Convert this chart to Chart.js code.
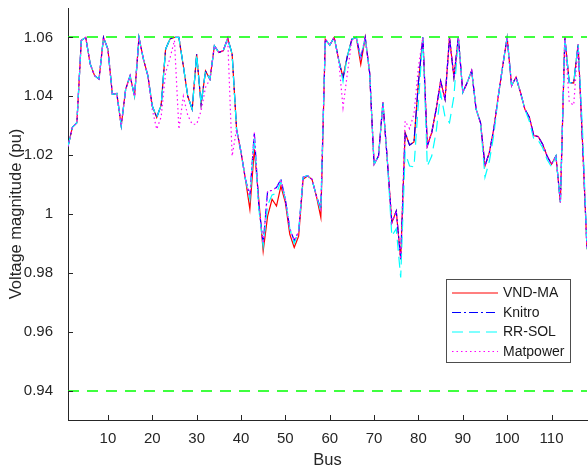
<!DOCTYPE html>
<html>
<head>
<meta charset="utf-8">
<script src="https://cdn.jsdelivr.net/npm/chart.js@4.4.1/dist/chart.umd.min.js"></script>
<style>
  body { margin: 0; background: #fff; }
  #wrap { width: 588px; height: 469px; }
</style>
</head>
<body>
<div id="wrap"><canvas id="voltChart" width="588" height="469"></canvas></div>
<script>
// bus numbers 1..118
const buses = Array.from({ length: 118 }, (_, i) => i + 1);

const xTicks = [10, 20, 30, 40, 50, 60, 70, 80, 90, 100, 110];
const yTicks = [0.94, 0.96, 0.98, 1, 1.02, 1.04, 1.06];

// voltage limits (green dashed)
const vLimits = [1.06, 0.94];

// voltage magnitudes
const vndMA = [
  1.0230, 1.0295, 1.0310, 1.0590, 1.0600, 1.0510, 1.0470, 1.0458, 1.0600, 1.0560,
  1.0407, 1.0410, 1.0300, 1.0424, 1.0470, 1.0400, 1.0600, 1.0526, 1.0470, 1.0367,
  1.0328, 1.0370, 1.0560, 1.0595, 1.0600, 1.0600, 1.0503, 1.0400, 1.0356, 1.0543,
  1.0373, 1.0486, 1.0458, 1.0571, 1.0549, 1.0555, 1.0597, 1.0543, 1.0288, 1.0210,
  1.0118, 1.0016, 1.0220, 1.0050, 0.9874, 0.9993, 1.0050, 1.0027, 1.0095, 1.0039,
  0.9931, 0.9886, 0.9925, 1.0118, 1.0129, 1.0118, 1.0061, 0.9988, 1.0594, 1.0574,
  1.0600, 1.0526, 1.0464, 1.0538, 1.0594, 1.0600, 1.0509, 1.0600, 1.0480, 1.0169,
  1.0197, 1.0379, 1.0180, 0.9970, 1.0010, 0.9846, 1.0277, 1.0234, 1.0245, 1.0447,
  1.0600, 1.0231, 1.0277, 1.0356, 1.0452, 1.0390, 1.0600, 1.0465, 1.0600, 1.0413,
  1.0447, 1.0487, 1.0356, 1.0310, 1.0163, 1.0210, 1.0290, 1.0400, 1.0503, 1.0600,
  1.0436, 1.0465, 1.0413, 1.0356, 1.0329, 1.0267, 1.0263, 1.0237, 1.0197, 1.0169,
  1.0197, 1.0039, 1.0600, 1.0447, 1.0445, 1.0577, 1.0240, 0.9880
];

const knitro = [
  1.0230, 1.0295, 1.0310, 1.0590, 1.0600, 1.0510, 1.0470, 1.0458, 1.0600, 1.0560,
  1.0407, 1.0410, 1.0300, 1.0424, 1.0470, 1.0400, 1.0600, 1.0526, 1.0470, 1.0367,
  1.0328, 1.0370, 1.0560, 1.0595, 1.0600, 1.0600, 1.0503, 1.0400, 1.0356, 1.0543,
  1.0373, 1.0486, 1.0458, 1.0571, 1.0549, 1.0555, 1.0597, 1.0543, 1.0288, 1.0210,
  1.0118, 1.0060, 1.0277, 1.0030, 0.9900, 1.0078, 1.0080, 1.0090, 1.0118, 1.0050,
  0.9950, 0.9910, 0.9940, 1.0125, 1.0130, 1.0118, 1.0061, 1.0017, 1.0594, 1.0574,
  1.0600, 1.0526, 1.0460, 1.0538, 1.0594, 1.0600, 1.0530, 1.0600, 1.0480, 1.0169,
  1.0197, 1.0379, 1.0180, 0.9970, 1.0010, 0.9846, 1.0277, 1.0234, 1.0245, 1.0447,
  1.0600, 1.0231, 1.0277, 1.0356, 1.0452, 1.0390, 1.0600, 1.0465, 1.0600, 1.0413,
  1.0447, 1.0487, 1.0356, 1.0310, 1.0163, 1.0210, 1.0290, 1.0400, 1.0503, 1.0600,
  1.0436, 1.0465, 1.0413, 1.0356, 1.0329, 1.0267, 1.0263, 1.0237, 1.0197, 1.0169,
  1.0197, 1.0039, 1.0600, 1.0447, 1.0445, 1.0577, 1.0240, 0.9880
];

const rrSol = [
  1.0230, 1.0295, 1.0310, 1.0590, 1.0600, 1.0510, 1.0470, 1.0458, 1.0600, 1.0560,
  1.0407, 1.0410, 1.0300, 1.0424, 1.0470, 1.0400, 1.0600, 1.0526, 1.0470, 1.0367,
  1.0328, 1.0370, 1.0560, 1.0595, 1.0600, 1.0600, 1.0503, 1.0400, 1.0356, 1.0543,
  1.0373, 1.0486, 1.0458, 1.0571, 1.0549, 1.0555, 1.0597, 1.0543, 1.0288, 1.0210,
  1.0118, 1.0050, 1.0260, 1.0020, 0.9890, 1.0030, 1.0065, 1.0070, 1.0110, 1.0050,
  0.9950, 0.9900, 0.9940, 1.0125, 1.0130, 1.0118, 1.0061, 1.0010, 1.0594, 1.0574,
  1.0600, 1.0526, 1.0450, 1.0538, 1.0594, 1.0600, 1.0530, 1.0600, 1.0480, 1.0169,
  1.0197, 1.0379, 1.0180, 0.9925, 0.9950, 0.9784, 1.0209, 1.0163, 1.0160, 1.0380,
  1.0600, 1.0163, 1.0197, 1.0280, 1.0410, 1.0330, 1.0310, 1.0400, 1.0600, 1.0413,
  1.0447, 1.0487, 1.0356, 1.0310, 1.0125, 1.0180, 1.0270, 1.0400, 1.0503, 1.0600,
  1.0436, 1.0465, 1.0413, 1.0356, 1.0315, 1.0255, 1.0250, 1.0225, 1.0185, 1.0160,
  1.0197, 1.0039, 1.0600, 1.0447, 1.0445, 1.0577, 1.0280, 0.9880
];

const matpower = [
  1.0230, 1.0295, 1.0310, 1.0590, 1.0600, 1.0510, 1.0470, 1.0458, 1.0600, 1.0560,
  1.0407, 1.0410, 1.0300, 1.0424, 1.0470, 1.0400, 1.0600, 1.0526, 1.0470, 1.0355,
  1.0288, 1.0330, 1.0480, 1.0530, 1.0590, 1.0288, 1.0400, 1.0335, 1.0305, 1.0305,
  1.0350, 1.0430, 1.0458, 1.0571, 1.0549, 1.0555, 1.0597, 1.0197, 1.0288, 1.0210,
  1.0118, 1.0060, 1.0277, 1.0030, 0.9900, 1.0078, 1.0080, 1.0090, 1.0118, 1.0050,
  0.9950, 0.9910, 0.9940, 1.0125, 1.0130, 1.0118, 1.0061, 1.0017, 1.0594, 1.0574,
  1.0600, 1.0526, 1.0362, 1.0480, 1.0594, 1.0600, 1.0530, 1.0600, 1.0480, 1.0169,
  1.0197, 1.0379, 1.0180, 0.9970, 1.0010, 0.9846, 1.0316, 1.0290, 1.0340, 1.0500,
  1.0600, 1.0231, 1.0277, 1.0356, 1.0452, 1.0390, 1.0600, 1.0465, 1.0600, 1.0413,
  1.0447, 1.0487, 1.0356, 1.0310, 1.0163, 1.0210, 1.0290, 1.0400, 1.0503, 1.0600,
  1.0436, 1.0465, 1.0413, 1.0356, 1.0329, 1.0267, 1.0263, 1.0237, 1.0197, 1.0169,
  1.0197, 1.0039, 1.0600, 1.0380, 1.0370, 1.0577, 1.0240, 0.9880
];

const FONT = "'Liberation Sans', Arial, Helvetica, sans-serif";
const AXIS_COLOR = '#262626';

const toPoints = arr => arr.map((v, i) => ({ x: buses[i], y: v }));

function series(label, values, color, dash, order) {
  return {
    label: label,
    data: toPoints(values),
    borderColor: color,
    borderWidth: 1.2,
    borderDash: dash,
    pointRadius: 0,
    tension: 0,
    fill: false,
    order: order
  };
}

// green limit lines, a bit thicker so they keep their colour
const limitLines = {
  id: 'limitLines',
  afterDatasetsDraw(chart) {
    const { ctx, scales } = chart;
    ctx.save();
    ctx.strokeStyle = '#00ff00';
    ctx.lineWidth = 1.6;
    ctx.setLineDash([11, 8]);
    vLimits.forEach(v => {
      const y = Math.round(scales.y.getPixelForValue(v));
      ctx.beginPath();
      ctx.moveTo(scales.x.getPixelForValue(buses[0]), y);
      ctx.lineTo(scales.x.getPixelForValue(buses[buses.length - 1]), y);
      ctx.stroke();
    });
    ctx.restore();
  }
};

// inward tick marks like matlab
const innerTicks = {
  id: 'innerTicks',
  afterDraw(chart) {
    const { ctx, chartArea, scales } = chart;
    ctx.save();
    ctx.strokeStyle = AXIS_COLOR;
    ctx.lineWidth = 1;
    ctx.beginPath();
    xTicks.forEach(t => {
      const x = Math.round(scales.x.getPixelForValue(t)) + 0.5;
      ctx.moveTo(x, chartArea.bottom);
      ctx.lineTo(x, chartArea.bottom - 5);
    });
    yTicks.forEach(t => {
      const y = Math.round(scales.y.getPixelForValue(t)) + 0.5;
      ctx.moveTo(chartArea.left, y);
      ctx.lineTo(chartArea.left + 5, y);
    });
    ctx.stroke();
    ctx.restore();
  }
};

// legend box in the lower right corner
const boxLegend = {
  id: 'boxLegend',
  afterDraw(chart) {
    const ctx = chart.ctx;
    const items = chart.data.datasets;
    const bx = 446.5, by = 279.5, bw = 124, bh = 83;
    ctx.save();
    ctx.fillStyle = '#ffffff';
    ctx.fillRect(bx, by, bw, bh);
    ctx.strokeStyle = '#4d4d4d';
    ctx.lineWidth = 1;
    ctx.strokeRect(bx, by, bw, bh);
    ctx.font = '14px ' + FONT;
    ctx.textBaseline = 'middle';
    ctx.textAlign = 'left';
    items.forEach((d, i) => {
      const y = 293 + i * 19.5;
      ctx.strokeStyle = d.borderColor;
      ctx.lineWidth = 1.2;
      ctx.setLineDash(d.borderDash || []);
      ctx.beginPath();
      ctx.moveTo(452, y);
      ctx.lineTo(498, y);
      ctx.stroke();
      ctx.setLineDash([]);
      ctx.fillStyle = '#1a1a1a';
      ctx.fillText(d.label, 503, y + 0.5);
    });
    ctx.restore();
  }
};

const ctx = document.getElementById('voltChart').getContext('2d');

const voltChart = new Chart(ctx, {
  type: 'line',
  data: {
    datasets: [
      series('VND-MA', vndMA, '#ff0000', [], 3),
      series('Knitro', knitro, '#0000ff', [9, 3, 2, 3], 2),
      series('RR-SOL', rrSol, '#00ffff', [11, 6], 1),
      series('Matpower', matpower, '#ff00ff', [1.5, 3], 0)
    ]
  },
  options: {
    responsive: false,
    animation: false,
    layout: { padding: { top: 8, right: 1, left: 0, bottom: 0 } },
    scales: {
      x: {
        type: 'linear',
        min: 1,
        max: 118,
        afterBuildTicks: s => { s.ticks = xTicks.map(v => ({ value: v })); },
        afterFit: s => { s.height = 49; s.paddingLeft = 0; s.paddingRight = 0; },
        grid: { display: false },
        border: { display: true, color: AXIS_COLOR, width: 1 },
        ticks: {
          font: { family: FONT, size: 15 },
          color: AXIS_COLOR,
          padding: 2,
          maxRotation: 0,
          autoSkip: false
        },
        title: {
          display: true,
          text: 'Bus',
          font: { family: FONT, size: 16.5 },
          color: AXIS_COLOR,
          padding: { top: 0, bottom: -1 }
        }
      },
      y: {
        type: 'linear',
        min: 0.93,
        max: 1.07,
        afterBuildTicks: s => { s.ticks = yTicks.map(v => ({ value: v })); },
        afterFit: s => { s.width = 68; s.paddingTop = 0; s.paddingBottom = 0; },
        grid: { display: false },
        border: { display: true, color: AXIS_COLOR, width: 1 },
        ticks: {
          font: { family: FONT, size: 15 },
          color: AXIS_COLOR,
          padding: 7,
          autoSkip: false,
          callback: v => String(+v.toFixed(2))
        },
        title: {
          display: true,
          text: 'Voltage magnitude (pu)',
          font: { family: FONT, size: 16.5 },
          color: AXIS_COLOR,
          padding: { top: 7, bottom: 0 }
        }
      }
    },
    plugins: {
      legend: { display: false },
      tooltip: { enabled: false }
    }
  },
  plugins: [limitLines, innerTicks, boxLegend]
});
</script>
</body>
</html>
